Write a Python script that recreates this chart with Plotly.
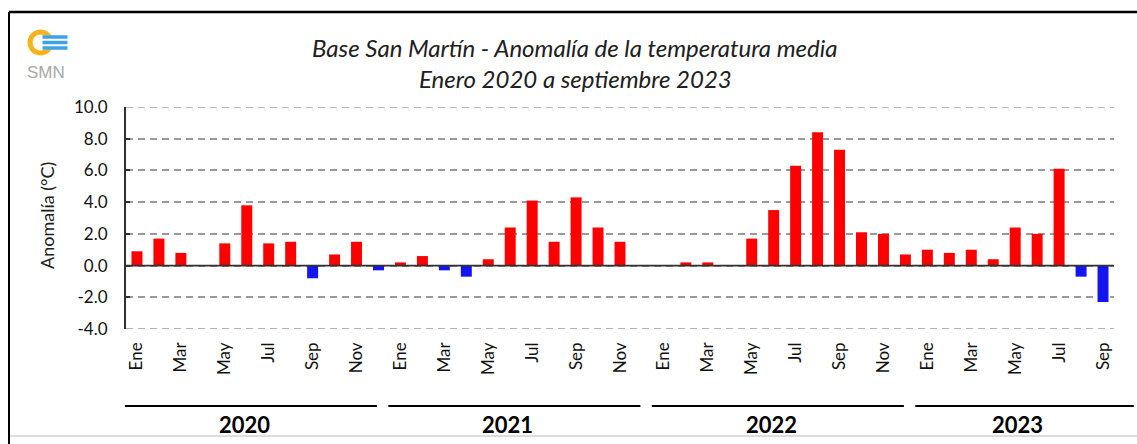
import plotly.graph_objects as go

# Monthly mean temperature anomaly (°C), Base San Martín, Jan 2020 - Sep 2023
years = [2020, 2021, 2022, 2023]
month_names = ["Ene", "Feb", "Mar", "Abr", "May", "Jun",
               "Jul", "Ago", "Sep", "Oct", "Nov", "Dic"]

anom_2020 = [0.9, 1.7, 0.8, 0.0, 1.4, 3.8, 1.4, 1.5, -0.8, 0.7, 1.5, -0.3]
anom_2021 = [0.2, 0.6, -0.3, -0.7, 0.4, 2.4, 4.1, 1.5, 4.3, 2.4, 1.5, 0.0]
anom_2022 = [0.0, 0.2, 0.2, 0.0, 1.7, 3.5, 6.3, 8.4, 7.3, 2.1, 2.0, 0.7]
anom_2023 = [1.0, 0.8, 1.0, 0.4, 2.4, 2.0, 6.1, -0.7, -2.3]

y_ticks = [-4, -2, 0, 2, 4, 6, 8, 10]

series = [anom_2020, anom_2021, anom_2022, anom_2023]
values = [v for s in series for v in s]
labels = [month_names[i % 12] for i in range(len(values))]
idx = list(range(len(values)))
colors = ["#FF0000" if v >= 0 else "#1414F0" for v in values]

XMIN, XMAX = -0.5, len(values) - 0.5
YMIN, YMAX = y_ticks[0], y_ticks[-1]
W, H = 1137, 444
ML, MR, MT, MB = 126, 23, 107, 115
PW, PH = W - ML - MR, H - MT - MB


def xp(px):
    return (px - ML) / PW


def yp(py):
    return (H - MB - py) / PH


def xdata(x):
    return (x - XMIN) / (XMAX - XMIN)


fig = go.Figure(go.Bar(
    x=idx, y=values, width=0.5,
    marker=dict(color=colors, line=dict(width=0)),
    hovertext=labels,
))

shapes = []
annotations = []

# frame around the chart
shapes.append(dict(type="line", xref="paper", yref="paper",
                   x0=xp(9), x1=xp(1140), y0=yp(12), y1=yp(12),
                   line=dict(color="black", width=2.5)))
shapes.append(dict(type="line", xref="paper", yref="paper",
                   x0=xp(9), x1=xp(9), y0=yp(12), y1=yp(446),
                   line=dict(color="black", width=2)))
shapes.append(dict(type="line", xref="paper", yref="paper",
                   x0=xp(10), x1=xp(1140), y0=yp(436), y1=yp(436),
                   line=dict(color="#dcdcdc", width=2)))

# dashed gridlines at the range limits
for gy in (YMIN, YMAX):
    shapes.append(dict(type="line", xref="paper", yref="y",
                       x0=0, x1=1, y0=gy, y1=gy,
                       line=dict(color="#9a9a9a", width=1.6, dash="7px,5px")))

# zero line
shapes.append(dict(type="line", xref="paper", yref="y",
                   x0=0, x1=1, y0=0, y1=0,
                   line=dict(color="#303030", width=1.8)))

# year groups below the month labels
start = 0
for k, (yr, s) in enumerate(zip(years, series)):
    first, last = start, start + len(s) - 1
    x0 = first - 0.55
    x1 = last - 0.07 if k < len(years) - 1 else last + 1.4
    shapes.append(dict(type="line", xref="paper", yref="paper",
                       x0=xdata(x0), x1=xdata(x1), y0=yp(406), y1=yp(406),
                       line=dict(color="black", width=2)))
    annotations.append(dict(xref="paper", yref="paper",
                            x=xdata((x0 + x1) / 2 - 0.3), y=yp(424),
                            text=f"<b>{yr}</b>", showarrow=False,
                            font=dict(size=22, color="black", family="Lato"),
                            xanchor="center", yanchor="middle"))
    start += len(s)

# SMN logo
lx, ly = xp(40.5), yp(42.5)
shapes.append(dict(type="circle", xref="paper", yref="paper",
                   xsizemode="pixel", ysizemode="pixel",
                   xanchor=lx, yanchor=ly, x0=-10.5, x1=10.5, y0=-10.5, y1=10.5,
                   line=dict(color="#F8B21C", width=5)))
shapes.append(dict(type="rect", xref="paper", yref="paper",
                   xsizemode="pixel", ysizemode="pixel",
                   xanchor=lx, yanchor=ly, x0=3, x1=15, y0=-7, y1=7,
                   fillcolor="white", line=dict(width=0)))
for dy in (5.5, 0, -5.5):
    shapes.append(dict(type="line", xref="paper", yref="paper",
                       xsizemode="pixel", ysizemode="pixel",
                       xanchor=lx, yanchor=ly, x0=2, x1=27, y0=dy, y1=dy,
                       line=dict(color="#3DA2E6", width=3.5)))
annotations.append(dict(xref="paper", yref="paper", x=xp(46), y=yp(72),
                        text="SMN", showarrow=False,
                        font=dict(size=17, color="#a8a8a8",
                                  family="Liberation Sans Narrow, Liberation Sans"),
                        xanchor="center", yanchor="middle"))

# titles
annotations.append(dict(xref="paper", yref="paper", x=xp(575), y=yp(47),
                        text="<i>Base San Martín - Anomalía de la temperatura media</i>",
                        showarrow=False, font=dict(size=24, color="#202020", family="Lato"),
                        xanchor="center", yanchor="middle"))
annotations.append(dict(xref="paper", yref="paper", x=xp(575), y=yp(78),
                        text="<i>Enero 2020 a septiembre 2023</i>",
                        showarrow=False, font=dict(size=24, color="#202020", family="Lato"),
                        xanchor="center", yanchor="middle"))

# y-axis title
annotations.append(dict(xref="paper", yref="paper", x=xp(47), y=yp(216),
                        text="Anomalía (°C)", textangle=-90, showarrow=False,
                        font=dict(size=18, color="#202020", family="Lato"),
                        xanchor="center", yanchor="middle"))

fig.update_layout(
    width=W, height=H,
    margin=dict(l=ML, r=MR, t=MT, b=MB, pad=0),
    paper_bgcolor="white", plot_bgcolor="white",
    showlegend=False,
    font=dict(family="Lato", color="#202020"),
    shapes=shapes, annotations=annotations,
    bargap=0.5,
)
fig.update_xaxes(
    range=[XMIN, XMAX],
    tickvals=idx[::2], ticktext=labels[::2],
    tickangle=-90, ticks="", ticklabelstandoff=9,
    tickfont=dict(size=17, color="#111111", family="Lato"),
    showgrid=False, zeroline=False, showline=False,
)
fig.update_yaxes(
    range=[YMIN, YMAX], tickvals=y_ticks,
    ticktext=[f"{v:.1f}" for v in y_ticks],
    ticks="inside", ticklen=4, tickcolor="#303030", tickwidth=1.5,
    ticklabelstandoff=13,
    tickfont=dict(size=17, color="#111111", family="Lato"),
    showgrid=True, gridcolor="#9a9a9a", gridwidth=1.6, griddash="7px,5px",
    zeroline=False,
    showline=True, linecolor="#303030", linewidth=2,
)

fig.write_html("out.html")
